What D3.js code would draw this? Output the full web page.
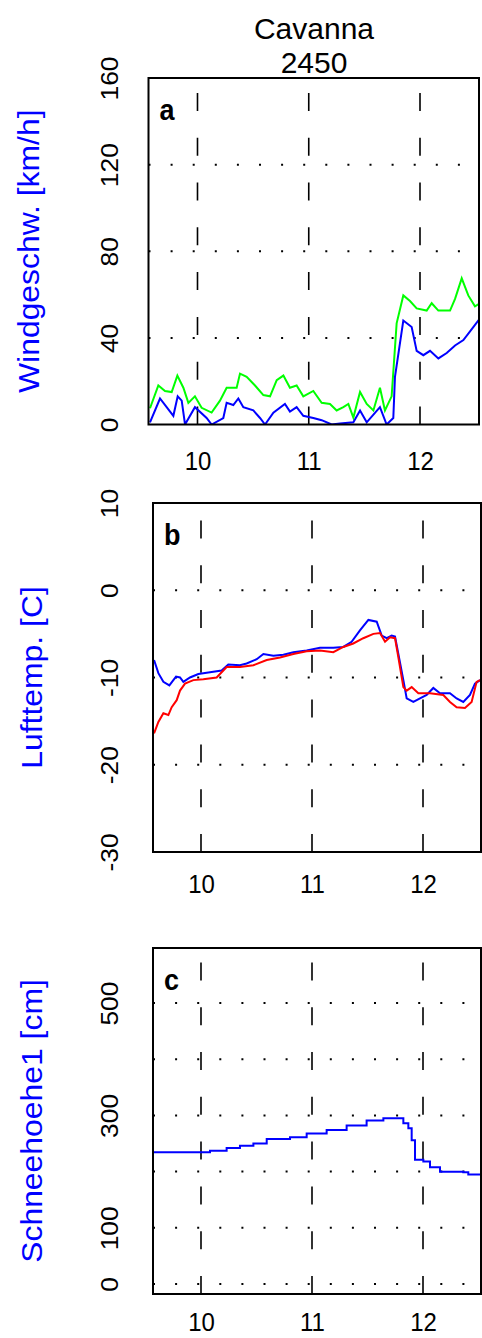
<!DOCTYPE html>
<html>
<head>
<meta charset="utf-8">
<script src="https://cdn.jsdelivr.net/npm/d3@7"></script>
<style>
  body { margin: 0; background: #fff; }
  svg { display: block; font-family: "Liberation Sans", Arial, sans-serif; }
</style>
</head>
<body>
<svg id="chart" width="482" height="1338"></svg>
<script>
// ---- data (x = day of month) ----
var xTicks = [10, 11, 12]

// panel a: wind speed (blue = mean, green = gusts)
var windDays = [9.573, 9.663, 9.783, 9.822, 9.858, 9.888, 9.977, 10.082, 10.127, 10.232, 10.262, 10.322, 10.367, 10.412, 10.502, 10.562, 10.607, 10.682, 10.786, 10.831, 10.891, 10.951, 11.041, 11.116, 11.206, 11.281, 11.401, 11.461, 11.521, 11.640, 11.700, 11.760, 11.775, 11.850, 11.925, 11.970, 12.030, 12.090, 12.165, 12.240, 12.315, 12.390, 12.479, 12.539]
var windMean = [1, 12, 4, 13, 11, 0, 8, 3, 0, 3, 10, 9, 12, 8, 6.5, 3, 0, 5.5, 9.5, 6, 8, 4, 3, 2, 0, 0.5, 1, 6.5, 1, 8, 0, 3, 22, 48, 45, 34, 32, 34, 30.5, 33, 36.5, 39, 45, 49]
var gustDays = [9.573, 9.648, 9.708, 9.768, 9.819, 9.873, 9.918, 9.977, 10.037, 10.127, 10.202, 10.262, 10.352, 10.382, 10.442, 10.517, 10.592, 10.652, 10.712, 10.772, 10.831, 10.891, 10.951, 11.041, 11.116, 11.191, 11.251, 11.311, 11.356, 11.401, 11.461, 11.521, 11.581, 11.640, 11.685, 11.745, 11.790, 11.850, 11.910, 11.970, 12.060, 12.105, 12.165, 12.270, 12.315, 12.375, 12.434, 12.494, 12.539]
var windGust = [7.5, 18, 15.5, 15, 22.6, 17, 10, 13, 7.7, 5.5, 11, 17, 17, 23.5, 22, 18, 13.6, 13, 20.5, 22.6, 17, 18, 13, 15.5, 10, 9.5, 6.5, 8, 9.5, 3.2, 15, 9.5, 6.5, 17, 6.5, 13, 46.7, 59.6, 57, 53.6, 52.6, 56, 52.6, 52.6, 58, 67.5, 59.6, 54.6, 56]
var windTicks = [0, 40, 80, 120, 160]
var windGrid = [40, 80, 120]

// panel b: air temperature (blue, red)
var tempDaysBlue = [9.577, 9.616, 9.661, 9.715, 9.775, 9.811, 9.841, 9.901, 9.976, 10.081, 10.186, 10.246, 10.351, 10.411, 10.502, 10.562, 10.652, 10.742, 10.832, 10.952, 11.072, 11.192, 11.282, 11.357, 11.432, 11.508, 11.583, 11.628, 11.673, 11.718, 11.748, 11.778, 11.823, 11.853, 11.913, 11.973, 12.033, 12.093, 12.153, 12.243, 12.303, 12.363, 12.423, 12.468, 12.514]
var tempBlue = [-8.0, -9.5, -10.5, -10.9, -9.9, -10.0, -10.5, -10.0, -9.6, -9.4, -9.2, -8.5, -8.6, -8.4, -7.9, -7.3, -7.5, -7.4, -7.1, -6.9, -6.6, -6.6, -6.5, -5.9, -4.6, -3.4, -3.6, -5.2, -5.5, -5.2, -5.3, -7.3, -10.3, -12.4, -12.8, -12.4, -12.0, -11.2, -11.8, -11.8, -12.4, -12.8, -12.0, -10.7, -10.3]
var tempDaysRed = [9.577, 9.616, 9.661, 9.706, 9.736, 9.781, 9.811, 9.856, 9.931, 10.021, 10.141, 10.231, 10.351, 10.472, 10.592, 10.712, 10.832, 10.952, 11.072, 11.192, 11.282, 11.372, 11.462, 11.553, 11.613, 11.658, 11.703, 11.748, 11.778, 11.823, 11.853, 11.898, 11.958, 12.063, 12.183, 12.243, 12.303, 12.378, 12.438, 12.483, 12.514]
var tempRed = [-16.4, -15.1, -14.1, -14.3, -13.4, -12.6, -11.5, -10.7, -10.3, -10.2, -10.0, -8.8, -8.8, -8.6, -8.0, -7.7, -7.3, -7.0, -6.9, -7.1, -6.5, -6.1, -5.5, -5.0, -4.9, -5.9, -5.4, -5.5, -7.7, -11.1, -11.5, -11.1, -11.8, -11.8, -12.0, -12.8, -13.4, -13.5, -12.8, -10.5, -10.3]
var tempTicks = [10, 0, -10, -20, -30]
var tempGrid = [0, -10, -20]

// panel c: snow height
var snowDays = [9.571, 9.991, 10.081, 10.231, 10.351, 10.472, 10.592, 10.802, 10.952, 11.132, 11.312, 11.492, 11.643, 11.778, 11.823, 11.868, 11.898, 11.928, 12.003, 12.063, 12.153, 12.363, 12.408, 12.528]
var snowHeight = [234.5, 234.5, 237, 242, 246, 250, 258, 261, 268, 274, 282, 291, 295, 295, 286, 277, 256, 221, 218, 208, 200, 199, 195, 195]
var snowTicks = [0, 100, 300, 500]
var snowGrid = [0, 100, 200, 300, 400, 500]

// ---- layout ----
var SVG = d3.select("#chart")
var stretch = 1.1   // the picture's glyphs are a little taller than wide

var panels = [
  { letter: "a", label: "Windgeschw. [km/h]", left: 148.5, right: 479, top: 78, bottom: 424.5,
    xDomain: [9.5596, 12.5303], yDomain: [0, 160], yTicks: windTicks, grid: windGrid,
    series: [{ d: gustDays, v: windGust, c: "#00ff00" }, { d: windDays, v: windMean, c: "#0000ff" }],
    curve: d3.curveLinear, labelX: 39, xLabelY: 470 },
  { letter: "b", label: "Lufttemp. [C]", left: 153, right: 481, top: 503, bottom: 852,
    xDomain: [9.5676, 12.5225], yDomain: [-30, 10], yTicks: tempTicks, grid: tempGrid,
    series: [{ d: tempDaysBlue, v: tempBlue, c: "#0000ff" }, { d: tempDaysRed, v: tempRed, c: "#ff0000" }],
    curve: d3.curveLinear, labelX: 42, xLabelY: 893 },
  { letter: "c", label: "Schneehoehe1 [cm]", left: 153, right: 481, top: 948, bottom: 1294,
    xDomain: [9.5676, 12.5225], yDomain: [-17.8, 598], yTicks: snowTicks, grid: snowGrid,
    series: [{ d: snowDays, v: snowHeight, c: "#0000ff" }],
    curve: d3.curveStepAfter, labelX: 42, xLabelY: 1331 }
]

// title
SVG.selectAll("titlelines")
  .data(["Cavanna", "2450"])
  .enter()
  .append("text")
    .attr("x", 314)
    .attr("y", function(d, i){ return 39 + i*34 })
    .attr("text-anchor", "middle")
    .style("font-size", "30px")
    .style("fill", "#000")
    .text(function(d){ return d })

panels.forEach(function(p, k){
  var x = d3.scaleLinear().domain(p.xDomain).range([p.left, p.right])
  var y = d3.scaleLinear().domain(p.yDomain).range([p.bottom, p.top])
  var g = SVG.append("g")

  g.append("clipPath").attr("id", "clip" + k)
    .append("rect")
      .attr("x", p.left).attr("y", p.top)
      .attr("width", p.right - p.left).attr("height", p.bottom - p.top)

  // dotted horizontal grid
  g.selectAll("hgrid")
    .data(p.grid)
    .enter()
    .append("line")
      .attr("x1", p.left).attr("x2", p.right)
      .attr("y1", function(d){ return y(d) }).attr("y2", function(d){ return y(d) })
      .style("stroke", "#000")
      .style("stroke-width", 2)
      .style("stroke-dasharray", "2,20.1")

  // dashed verticals at each day
  g.selectAll("vgrid")
    .data(xTicks)
    .enter()
    .append("line")
      .attr("x1", function(d){ return x(d) }).attr("x2", function(d){ return x(d) })
      .attr("y1", p.bottom).attr("y2", p.top)
      .style("stroke", "#000")
      .style("stroke-width", 1.6)
      .style("stroke-dasharray", "18,26.8")

  // data lines
  var line = d3.line()
    .curve(p.curve)
    .x(function(d){ return x(d[0]) })
    .y(function(d){ return y(d[1]) })

  p.series.forEach(function(s){
    g.append("path")
      .datum(d3.zip(s.d, s.v))
      .attr("clip-path", "url(#clip" + k + ")")
      .attr("d", line)
      .style("fill", "none")
      .style("stroke", s.c)
      .style("stroke-width", 2)
  })

  // box
  g.append("rect")
    .attr("x", p.left).attr("y", p.top)
    .attr("width", p.right - p.left).attr("height", p.bottom - p.top)
    .style("fill", "none")
    .style("stroke", "#000")
    .style("stroke-width", 2)

  // x tick labels
  var xAxis = g.append("g")
    .attr("transform", "translate(0," + p.xLabelY + ")")
    .call(d3.axisBottom(x).tickValues(xTicks).tickSize(0).tickFormat(function(d){ return String(d) }))
  xAxis.select(".domain").remove()
  xAxis.selectAll("text")
    .attr("y", 0).attr("dy", null)
    .attr("transform", "scale(1," + stretch + ")")
    .style("font-size", "24px")
    .style("font-family", "'Liberation Sans', Arial, sans-serif")
    .style("fill", "#000")

  // y tick labels, turned sideways
  var yAxis = g.append("g")
    .attr("transform", "translate(" + p.left + ",0)")
    .call(d3.axisLeft(y).tickValues(p.yTicks).tickSize(0).tickFormat(function(d){ return String(d) }))
  yAxis.select(".domain").remove()
  yAxis.selectAll("text")
    .attr("x", 0).attr("dy", null)
    .attr("y", 118 - p.left)
    .attr("transform", "scale(1," + stretch + ") rotate(-90)")
    .attr("text-anchor", "middle")
    .style("font-size", "24px")
    .style("font-family", "'Liberation Sans', Arial, sans-serif")
    .style("fill", "#000")

  // axis title
  g.append("text")
    .attr("transform", "translate(" + p.labelX + "," + ((p.top + p.bottom) / 2) + ") scale(1," + stretch + ") rotate(-90)")
    .attr("text-anchor", "middle")
    .style("font-size", "29px")
    .style("fill", "#0000ff")
    .text(p.label)

  // panel letter
  g.append("text")
    .attr("transform", "translate(" + (p.left + 11) + "," + (p.top + 42) + ") scale(1," + stretch + ")")
    .style("font-size", "27px")
    .style("font-weight", "bold")
    .style("fill", "#000")
    .text(p.letter)
})
</script>
</body>
</html>
